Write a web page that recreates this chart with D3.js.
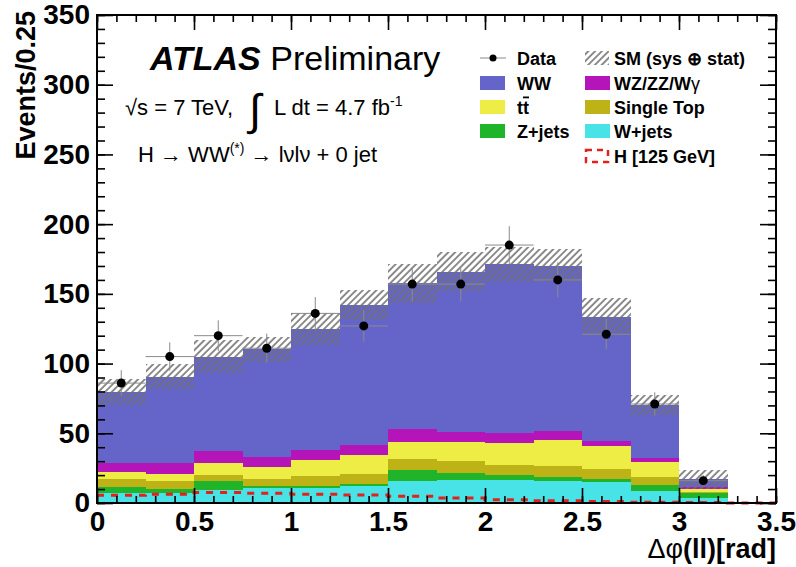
<!DOCTYPE html>
<html>
<head>
<meta charset="utf-8">
<script src="https://cdn.jsdelivr.net/npm/d3@7"></script>
<style>
body { margin: 0; background: #fff; }
svg { display: block; font-family: "Liberation Sans", Arial, Helvetica, sans-serif; }
</style>
</head>
<body>
<svg id="chart" width="796" height="567"></svg>
<script>
// bins of 0.25 rad, lower edges
const binLow = [0, 0.25, 0.5, 0.75, 1.0, 1.25, 1.5, 1.75, 2.0, 2.25, 2.5, 2.75, 3.0, 3.25];

// background components, stacked bottom -> top
const wjets     = [7.2, 7.5, 9.3, 10.5, 11.0, 12.2, 15.5, 16.5, 16.5, 16.0, 15.3, 8.8, 3.8, 0];
const zjets     = [4.3, 2.8, 6.5, 1.7, 1.2, 1.2, 8.5, 4.8, 3.6, 2.9, 1.7, 4.1, 3.2, 0];
const singleTop = [5.7, 5.5, 4.3, 4.8, 7.2, 7.6, 7.3, 9.1, 7.2, 7.6, 7.2, 5.5, 0.9, 0];
const ttbar     = [4.8, 5.0, 8.8, 8.6, 11.4, 13.7, 12.7, 13.1, 15.5, 18.7, 16.7, 11.0, 1.9, 0];
const diboson   = [6.9, 7.7, 8.6, 7.2, 7.0, 6.9, 9.1, 7.6, 7.2, 6.4, 3.6, 2.7, 1.5, 0];
const ww        = [50.7, 62.1, 67.5, 77.5, 86.8, 100.4, 104.5, 114.8, 121.2, 118.6, 89.1, 38.2, 5.6, 0];

// SM total uncertainty (sys + stat), half width
const smUnc = [9.3, 9.1, 12.0, 9.0, 11.5, 10.8, 14.0, 13.9, 12.7, 11.8, 13.2, 7.2, 6.8, 0];

// Higgs mH = 125 GeV (not stacked)
const higgs = [5.5, 6.3, 7.6, 7.0, 6.3, 5.7, 4.8, 3.6, 2.4, 1.6, 1.0, 0.6, 0.3, 0];

// observed data and errors
const dataVals = [86, 105, 120, 111, 136, 127, 157, 157, 185, 160, 121, 71, 16];
const dataErr  = [9.3, 10.2, 11.0, 10.5, 11.7, 11.3, 12.5, 12.5, 13.6, 12.6, 11.0, 8.4, 4.0];

const xTicks = [0, 0.5, 1, 1.5, 2, 2.5, 3, 3.5];
const yTicks = [0, 50, 100, 150, 200, 250, 300, 350];

const BW = 0.25;
const keys = ["wjets", "zjets", "singleTop", "ttbar", "diboson", "ww"];
const colors = {
    wjets: "#47e3e6", zjets: "#1fb42a", singleTop: "#bdb316",
    ttbar: "#eded46", diboson: "#b515b8", ww: "#6565c9"
};

const table = binLow.map(function(lo, i) {
    return { lo: lo, wjets: wjets[i], zjets: zjets[i], singleTop: singleTop[i],
             ttbar: ttbar[i], diboson: diboson[i], ww: ww[i] };
});

const svg = d3.select("#chart");
const x = d3.scaleLinear().domain([0, 3.5]).range([97, 776]);
const y = d3.scaleLinear().domain([0, 350]).range([503, 15]);

const defs = svg.append("defs");
const hatch = defs.append("pattern")
    .attr("id", "hatch")
    .attr("patternUnits", "userSpaceOnUse")
    .attr("width", 4.8).attr("height", 4.8)
    .attr("patternTransform", "rotate(45)");
hatch.append("line")
    .attr("x1", 1).attr("y1", 0).attr("x2", 1).attr("y2", 4.8)
    .style("stroke", "#707070").style("stroke-width", 1.6);

// stacked histograms
const series = d3.stack().keys(keys)(table);
svg.append("g").attr("shape-rendering", "crispEdges").selectAll("g")
    .data(series)
    .join("g")
    .style("fill", function(d) { return colors[d.key]; })
    .selectAll("rect")
    .data(function(d) { return d; })
    .join("rect")
    .attr("x", function(d) { return x(d.data.lo); })
    .attr("width", function(d) { return x(d.data.lo + BW) - x(d.data.lo); })
    .attr("y", function(d) { return y(d[1]); })
    .attr("height", function(d) { return y(d[0]) - y(d[1]); });

// uncertainty band
const totals = series[series.length - 1];
svg.append("g").attr("shape-rendering", "crispEdges").selectAll("rect")
    .data(totals)
    .join("rect")
    .attr("x", function(d) { return x(d.data.lo); })
    .attr("width", function(d) { return x(d.data.lo + BW) - x(d.data.lo); })
    .attr("y", function(d, i) { return y(d[1] + smUnc[i]); })
    .attr("height", function(d, i) { return y(d[1] - smUnc[i]) - y(d[1] + smUnc[i]); })
    .style("fill", "url(#hatch)");

// Higgs dashed step line
const hPts = binLow.map(function(lo, i) { return [lo, higgs[i]]; });
hPts.push([3.5, higgs[higgs.length - 1]]);
svg.append("path")
    .datum(hPts)
    .attr("d", d3.line().x(function(d) { return x(d[0]); }).y(function(d) { return y(d[1]); }).curve(d3.curveStepAfter))
    .style("fill", "none")
    .style("stroke", "#e3201c")
    .style("stroke-width", 3)
    .style("stroke-dasharray", "7,7");

// data points
const pts = dataVals.map(function(v, i) { return { lo: binLow[i], v: v, e: dataErr[i] }; });
const dg = svg.append("g");
dg.selectAll("line.h").data(pts).join("line").attr("class", "h")
    .attr("x1", function(d) { return x(d.lo); })
    .attr("x2", function(d) { return x(d.lo + BW); })
    .attr("y1", function(d) { return y(d.v); })
    .attr("y2", function(d) { return y(d.v); })
    .style("stroke", "#8a8a8a").style("stroke-width", 1);
dg.selectAll("line.v").data(pts).join("line").attr("class", "v")
    .attr("x1", function(d) { return x(d.lo + BW / 2); })
    .attr("x2", function(d) { return x(d.lo + BW / 2); })
    .attr("y1", function(d) { return y(d.v - d.e); })
    .attr("y2", function(d) { return y(d.v + d.e); })
    .style("stroke", "#8a8a8a").style("stroke-width", 1);
dg.selectAll("circle").data(pts).join("circle")
    .attr("cx", function(d) { return x(d.lo + BW / 2); })
    .attr("cy", function(d) { return y(d.v); })
    .attr("r", 4.5)
    .style("fill", "#000");

// axes: ticks pointing inward on all four sides
function ticksOnly(g) {
    g.select(".domain").remove();
    g.selectAll("line").style("stroke", "#000").style("stroke-width", 1.6);
}
const xMinor = d3.range(0, 3.51, 0.1);
const yMinor = d3.range(0, 351, 10);

svg.append("g").attr("transform", "translate(0,503)")
    .call(d3.axisBottom(x).tickValues(xMinor).tickSize(-7).tickFormat(""))
    .call(ticksOnly);
svg.append("g").attr("transform", "translate(0,15)")
    .call(d3.axisTop(x).tickValues(xMinor).tickSize(-7).tickFormat(""))
    .call(ticksOnly);
svg.append("g").attr("transform", "translate(97,0)")
    .call(d3.axisLeft(y).tickValues(yMinor).tickSize(-8).tickFormat(""))
    .call(ticksOnly);
svg.append("g").attr("transform", "translate(776,0)")
    .call(d3.axisRight(y).tickValues(yMinor).tickSize(-8).tickFormat(""))
    .call(ticksOnly);
svg.append("g").attr("transform", "translate(0,15)")
    .call(d3.axisTop(x).tickValues(xTicks).tickSize(-15).tickFormat(""))
    .call(ticksOnly);
svg.append("g").attr("transform", "translate(776,0)")
    .call(d3.axisRight(y).tickValues(yTicks).tickSize(-16).tickFormat(""))
    .call(ticksOnly);

const xAxis = svg.append("g").attr("transform", "translate(0,503)")
    .call(d3.axisBottom(x).tickValues(xTicks).tickSize(-15).tickPadding(8).tickFormat(d3.format("")))
    .call(ticksOnly);
const yAxis = svg.append("g").attr("transform", "translate(97,0)")
    .call(d3.axisLeft(y).tickValues(yTicks).tickSize(-16).tickPadding(7))
    .call(ticksOnly);
[xAxis, yAxis].forEach(function(g) {
    g.attr("font-family", null).attr("font-size", null);
    g.selectAll("text")
        .style("font-family", "'Liberation Sans', Arial, sans-serif")
        .style("font-size", "28px")
        .style("font-weight", "bold")
        .style("fill", "#000");
});

// frame
svg.append("rect")
    .attr("x", x(0)).attr("y", y(350))
    .attr("width", x(3.5) - x(0)).attr("height", y(0) - y(350))
    .style("fill", "none").style("stroke", "#000").style("stroke-width", 2);

// axis titles
svg.append("text")
    .attr("transform", "translate(35,11) rotate(-90)")
    .attr("text-anchor", "end")
    .style("font-size", "27px").style("font-weight", "bold")
    .text("Events/0.25");
const xt = svg.append("text")
    .attr("x", 776).attr("y", 558)
    .attr("text-anchor", "end")
    .style("font-size", "27px").style("font-weight", "bold");
xt.append("tspan").style("font-weight", "normal").text("\u0394\u03c6");
xt.append("tspan").text("(ll)[rad]");

// ATLAS label
const atl = svg.append("text").attr("x", 150).attr("y", 70).style("font-size", "34px");
atl.append("tspan").style("font-weight", "bold").style("font-style", "italic").text("ATLAS");
atl.append("tspan").text(" Preliminary");

const lumi = svg.append("text").attr("x", 125).attr("y", 115).style("font-size", "22px");
lumi.append("tspan").text("\u221As = 7 TeV,");
svg.append("text").attr("x", 249).attr("y", 125).style("font-size", "44px").text("\u222B");
const lumi2 = svg.append("text").attr("x", 274).attr("y", 115).style("font-size", "22px");
lumi2.append("tspan").text("L dt = 4.7 fb");
lumi2.append("tspan").attr("dy", -9).style("font-size", "14px").text("-1");

const proc = svg.append("text").attr("x", 138).attr("y", 162).style("font-size", "22px");
proc.append("tspan").text("H \u2192 WW");
proc.append("tspan").attr("dy", -9).style("font-size", "14px").text("(*)");
proc.append("tspan").attr("dy", 9).text(" \u2192 l\u03bdl\u03bd + 0 jet");

// legend
const legendNames = ["Data", "WW", "ttbar", "Z+jets", "SM (sys \u2295 stat)", "WZ/ZZ/W\u03b3", "Single Top", "W+jets", "H [125 GeV]"];
const legendKind  = ["data", "ww", "ttbar", "zjets", "sm", "diboson", "singleTop", "wjets", "higgs"];
const legRows = [58, 83, 107, 131, 156];
const lg = svg.append("g").style("font-size", "18px").style("font-weight", "bold");
legendKind.forEach(function(k, i) {
    const col = i < 4 ? 0 : 1;
    const row = col === 0 ? i : i - 4;
    const bx = col === 0 ? 480 : 585;
    const tx = col === 0 ? 517 : 614;
    const cy = legRows[row];
    if (k === "data") {
        lg.append("line").attr("x1", bx).attr("x2", bx + 26).attr("y1", cy).attr("y2", cy)
            .style("stroke", "#8a8a8a").style("stroke-width", 1);
        lg.append("circle").attr("cx", bx + 13).attr("cy", cy).attr("r", 3.5).style("fill", "#000");
    } else if (k === "sm") {
        lg.append("rect").attr("x", bx).attr("y", cy - 7).attr("width", 24).attr("height", 14)
            .style("fill", "url(#hatch)");
    } else if (k === "higgs") {
        lg.append("rect").attr("x", bx + 1).attr("y", cy - 6).attr("width", 22).attr("height", 12)
            .style("fill", "none").style("stroke", "#e3201c").style("stroke-width", 2.5)
            .style("stroke-dasharray", "6,5");
    } else {
        lg.append("rect").attr("x", bx).attr("y", cy - 7).attr("width", 25).attr("height", 14)
            .style("fill", colors[k]);
    }
    const t = lg.append("text").attr("x", tx).attr("y", cy + 6.5);
    if (k === "ttbar") {
        t.append("tspan").text("t");
        t.append("tspan").style("text-decoration", "overline").text("t");
    } else if (k === "diboson") {
        t.append("tspan").text("WZ/ZZ/W");
        t.append("tspan").style("font-weight", "normal").text("\u03b3");
    } else {
        t.text(legendNames[i]);
    }
});
</script>
</body>
</html>
